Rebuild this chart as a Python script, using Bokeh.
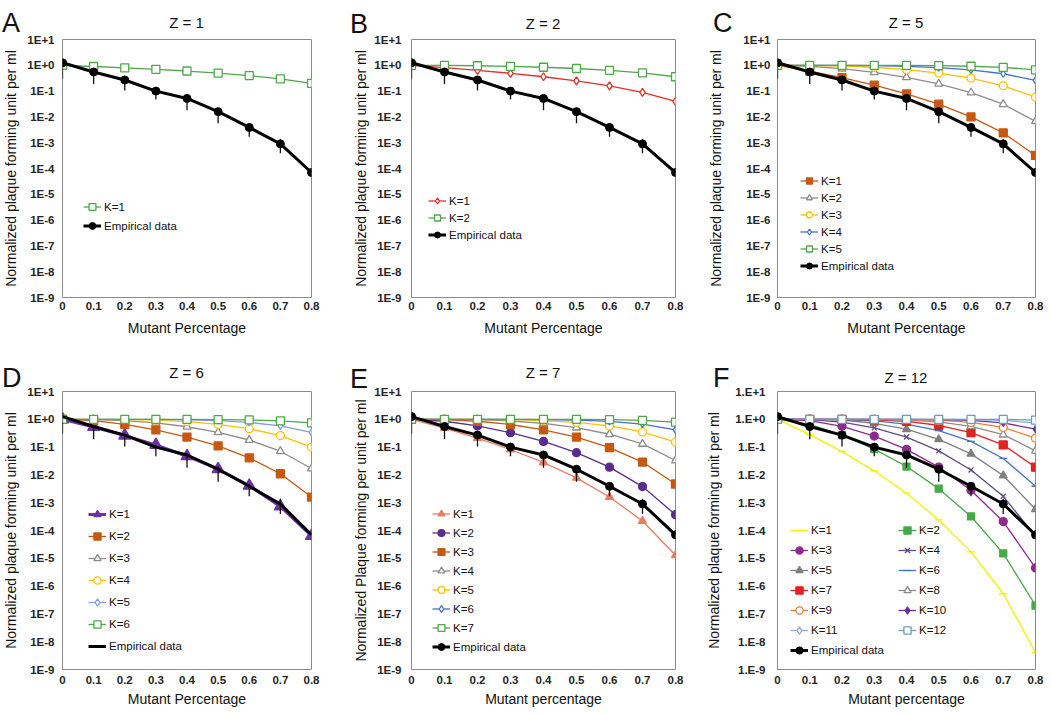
from bokeh.plotting import figure
from bokeh.models import (Range1d, FixedTicker, CustomJSTickFormatter, Legend, LegendItem,
                          GridBox, Div)
from bokeh.embed import file_html
from bokeh.resources import INLINE

FONT = "Liberation Sans"

# ---------------- data ----------------
mutant = [0.0, 0.1, 0.2, 0.3, 0.4, 0.5, 0.6, 0.7, 0.8]
x_tick_labels = ["0", "0.1", "0.2", "0.3", "0.4", "0.5", "0.6", "0.7", "0.8"]
y_ticks = [1e-9, 1e-8, 1e-7, 1e-6, 1e-5, 1e-4, 1e-3, 1e-2, 1e-1, 1e0, 1e1]
y_tick_labels = ["1E-9", "1E-8", "1E-7", "1E-6", "1E-5", "1E-4", "1E-3", "1E-2", "1E-1", "1E+0", "1E+1"]
y_tick_labels_f = ["1.E-9", "1.E-8", "1.E-7", "1.E-6", "1.E-5", "1.E-4", "1.E-3", "1.E-2", "1.E-1", "1.E+0", "1.E+1"]

empirical = [1.25, 0.55, 0.27, 0.10, 0.052, 0.016, 0.0039, 0.0009, 0.00007]
empirical_err_low = [0.3, 0.19, 0.105, 0.047, 0.018, 0.0057, 0.0017, 0.00039, 0.00007]
empirical_err_high = [1.6, 0.6, 0.3, 0.12, 0.06, 0.02, 0.0047, 0.0014, 0.00007]

z1_k1 = [1.0, 0.9, 0.8, 0.7, 0.6, 0.5, 0.4, 0.3, 0.2]

z2_k1 = [1.0, 0.81, 0.64, 0.49, 0.36, 0.25, 0.16, 0.09, 0.04]
z2_k2 = [1.0, 0.99, 0.96, 0.91, 0.84, 0.75, 0.64, 0.51, 0.36]

z5_k1 = [1.0, 0.59, 0.33, 0.17, 0.078, 0.031, 0.010, 0.0024, 0.00032]
z5_k2 = [1.0, 0.92, 0.74, 0.53, 0.34, 0.19, 0.087, 0.031, 0.0067]
z5_k3 = [1.0, 0.99, 0.94, 0.84, 0.68, 0.50, 0.32, 0.16, 0.058]
z5_k4 = [1.0, 1.0, 0.99, 0.97, 0.91, 0.81, 0.66, 0.47, 0.26]
z5_k5 = [1.0, 1.0, 1.0, 1.0, 0.99, 0.97, 0.92, 0.83, 0.67]

z6_k1 = [1.0, 0.53, 0.26, 0.12, 0.047, 0.016, 0.0041, 0.00073, 0.000064]
z6_k2 = [1.0, 0.89, 0.66, 0.42, 0.23, 0.11, 0.041, 0.011, 0.0016]
z6_k3 = [1.0, 0.98, 0.90, 0.74, 0.54, 0.34, 0.18, 0.071, 0.017]
z6_k4 = [1.0, 1.0, 0.98, 0.93, 0.82, 0.66, 0.46, 0.26, 0.099]
z6_k5 = [1.0, 1.0, 1.0, 0.99, 0.96, 0.89, 0.77, 0.58, 0.34]
z6_k6 = [1.0, 1.0, 1.0, 1.0, 1.0, 0.98, 0.95, 0.88, 0.74]

z7_k1 = [1.0, 0.48, 0.21, 0.082, 0.028, 0.0078, 0.0016, 0.00022, 0.0000128]
z7_k2 = [1.0, 0.85, 0.58, 0.33, 0.16, 0.063, 0.019, 0.0038, 0.00037]
z7_k3 = [1.0, 0.97, 0.85, 0.65, 0.42, 0.23, 0.096, 0.029, 0.0047]
z7_k4 = [1.0, 1.0, 0.97, 0.87, 0.71, 0.50, 0.29, 0.13, 0.033]
z7_k5 = [1.0, 1.0, 1.0, 0.97, 0.90, 0.77, 0.58, 0.35, 0.15]
z7_k6 = [1.0, 1.0, 1.0, 1.0, 0.98, 0.94, 0.84, 0.67, 0.42]
z7_k7 = [1.0, 1.0, 1.0, 1.0, 1.0, 0.99, 0.97, 0.92, 0.79]

z12_k1 = [1.0, 0.28, 0.069, 0.014, 0.0022, 0.00024, 0.000017, 5.3e-7, 4.1e-9]
z12_k2 = [1.0, 0.66, 0.27, 0.085, 0.020, 0.0032, 0.00032, 0.000015, 2.0e-7]
z12_k3 = [1.0, 0.89, 0.56, 0.25, 0.083, 0.019, 0.0028, 0.00021, 4.5e-6]
z12_k4 = [1.0, 0.97, 0.79, 0.49, 0.23, 0.073, 0.015, 0.0017, 0.000062]
z12_k5 = [1.0, 1.0, 0.93, 0.72, 0.44, 0.19, 0.057, 0.0095, 0.00058]
z12_k6 = [1.0, 1.0, 0.98, 0.88, 0.67, 0.39, 0.16, 0.039, 0.0039]
z12_k7 = [1.0, 1.0, 1.0, 0.96, 0.84, 0.61, 0.33, 0.12, 0.019]
z12_k8 = [1.0, 1.0, 1.0, 0.99, 0.94, 0.81, 0.56, 0.28, 0.073]
z12_k9 = [1.0, 1.0, 1.0, 1.0, 0.98, 0.93, 0.77, 0.51, 0.21]
z12_k10 = [1.0, 1.0, 1.0, 1.0, 1.0, 0.98, 0.92, 0.75, 0.44]
z12_k11 = [1.0, 1.0, 1.0, 1.0, 1.0, 1.0, 0.98, 0.92, 0.73]
z12_k12 = [1.0, 1.0, 1.0, 1.0, 1.0, 1.0, 1.0, 0.99, 0.93]

# ---------------- styles ----------------
GREEN = "#4EA84A"
RED = "#E0302A"
ORANGE = "#C65911"
GRAY = "#8C8C8C"
YELLOW = "#FFC000"
BLUE = "#4472C4"
LBLUE = "#7F9FDF"
PURPLE = "#7030A0"


def S(label, y, color, marker, fill, size=8, lw=1.3):
    return dict(label=label, y=y, color=color, marker=marker, fill=fill, size=size, lw=lw)


panels = [
    dict(letter="A", title="Z = 1", w=350, h=355, ml=62, mr=39, mt=39, mb=58,
         letter_pos=(2, 10), title_top=15, cell=(0, 0),
         ylab="Normalized plaque forming unit per ml", xlab="Mutant Percentage",
         ylabels=y_tick_labels, y_std=8, ylab_std=5, x_std=4, xlab_std=7,
         series=[S("K=1", z1_k1, GREEN, "square", "white")],
         emp_marker=True, legends=[dict(loc=(21, 63), lh=17, n=None)]),
    dict(letter="B", title="Z = 2", w=350, h=355, ml=61, mr=25, mt=39, mb=58,
         letter_pos=(0, 11), title_top=16, cell=(0, 1),
         ylab="Normalized plaque forming unit per ml", xlab="Mutant Percentage",
         ylabels=y_tick_labels, y_std=10, ylab_std=2, x_std=4, xlab_std=7,
         series=[S("K=1", z2_k1, RED, "diamond", "white", 8),
                 S("K=2", z2_k2, GREEN, "square", "white")],
         emp_marker=True, legends=[dict(loc=(17, 55), lh=15, n=None)]),
    dict(letter="C", title="Z = 5", w=348, h=355, ml=77, mr=13, mt=39, mb=58,
         letter_pos=(13, 10), title_top=15, cell=(0, 2),
         ylab="Normalized plaque forming unit per ml", xlab="Mutant Percentage",
         ylabels=y_tick_labels, y_std=7, ylab_std=16, x_std=4, xlab_std=7,
         series=[S("K=1", z5_k1, ORANGE, "square", ORANGE),
                 S("K=2", z5_k2, GRAY, "triangle", "white"),
                 S("K=3", z5_k3, YELLOW, "circle", "white"),
                 S("K=4", z5_k4, BLUE, "diamond", "white", 7),
                 S("K=5", z5_k5, GREEN, "square", "white")],
         emp_marker=True, legends=[dict(loc=(23, 24), lh=15, n=None)]),
    dict(letter="D", title="Z = 6", w=350, h=360, ml=62, mr=39, mt=36, mb=46,
         letter_pos=(2, 10), title_top=10, cell=(1, 0),
         ylab="Normalized plaque forming unit per ml", xlab="Mutant Percentage",
         ylabels=y_tick_labels, y_std=8, ylab_std=5, x_std=6, xlab_std=4,
         series=[S("K=1", z6_k1, PURPLE, "triangle", PURPLE, 12, 3),
                 S("K=2", z6_k2, ORANGE, "square", ORANGE),
                 S("K=3", z6_k3, GRAY, "triangle", "white"),
                 S("K=4", z6_k4, YELLOW, "circle", "white"),
                 S("K=5", z6_k5, LBLUE, "diamond", "white", 7),
                 S("K=6", z6_k6, GREEN, "square", "white")],
         emp_marker=False, legends=[dict(loc=(26, 13), lh=20, n=None)]),
    dict(letter="E", title="Z = 7", w=350, h=360, ml=61, mr=25, mt=36, mb=46,
         letter_pos=(0, 11), title_top=10, cell=(1, 1),
         ylab="Normalized Plaque forming per unit per ml", xlab="Mutant percentage",
         ylabels=y_tick_labels, y_std=10, ylab_std=2, x_std=6, xlab_std=4,
         series=[S("K=1", z7_k1, "#E97B63", "triangle", "#E97B63"),
                 S("K=2", z7_k2, "#5B2C8F", "circle", "#5B2C8F"),
                 S("K=3", z7_k3, ORANGE, "square", ORANGE),
                 S("K=4", z7_k4, GRAY, "triangle", "white"),
                 S("K=5", z7_k5, YELLOW, "circle", "white"),
                 S("K=6", z7_k6, BLUE, "diamond", "white", 7),
                 S("K=7", z7_k7, GREEN, "square", "white")],
         emp_marker=True, legends=[dict(loc=(21, 14), lh=17, n=None)]),
    dict(letter="F", title="Z = 12", w=348, h=360, ml=77, mr=13, mt=36, mb=46,
         letter_pos=(13, 10), title_top=15, cell=(1, 2),
         ylab="Normalized plaque forming unit per ml", xlab="Mutant percentage",
         ylabels=y_tick_labels_f, y_std=12, ylab_std=10, x_std=6, xlab_std=4,
         series=[S("K=1", z12_k1, "#F2F200", "dash", "#F2F200", 8),
                 S("K=2", z12_k2, "#48A948", "square", "#48A948", 7),
                 S("K=3", z12_k3, "#8E2B8E", "circle", "#8E2B8E"),
                 S("K=4", z12_k4, "#5F4B8B", "x", "#5F4B8B", 7),
                 S("K=5", z12_k5, "#7F7F7F", "triangle", "#7F7F7F"),
                 S("K=6", z12_k6, BLUE, "dash", BLUE, 8),
                 S("K=7", z12_k7, "#E02222", "square", "#E02222"),
                 S("K=8", z12_k8, GRAY, "triangle", "white"),
                 S("K=9", z12_k9, "#ED7D31", "circle", "white"),
                 S("K=10", z12_k10, PURPLE, "diamond", PURPLE, 7),
                 S("K=11", z12_k11, "#8EA9DB", "diamond", "white", 7),
                 S("K=12", z12_k12, "#6A9FB5", "square", "white")],
         emp_marker=True,
         legends=[dict(loc=(13, 10), lh=18, n="odd"), dict(loc=(121, 30), lh=18, n="even")]),
]


def make_panel(cfg):
    p = figure(width=cfg["w"], height=cfg["h"], y_axis_type="log",
               x_range=Range1d(0, 0.8), y_range=Range1d(1e-9, 10),
               output_backend="svg", toolbar_location=None,
               min_border_left=cfg["ml"], min_border_right=cfg["mr"],
               min_border_top=cfg["mt"], min_border_bottom=cfg["mb"])
    p.grid.visible = False
    p.outline_line_color = "#8C8C8C"
    p.outline_line_width = 1
    p.background_fill_color = "white"
    p.border_fill_color = "white"

    for ax in (p.xaxis[0], p.yaxis[0]):
        ax.axis_line_color = None
        ax.major_tick_line_color = None
        ax.minor_tick_line_color = None
        ax.major_tick_out = 0
        ax.major_tick_in = 0
        ax.major_label_text_font = FONT
        ax.major_label_text_font_size = "11.5px"
        ax.major_label_text_font_style = "bold"
        ax.major_label_text_color = "#262626"
        ax.axis_label_text_font = FONT
        ax.axis_label_text_font_size = "14px"
        ax.axis_label_text_font_style = "normal"
        ax.axis_label_text_color = "#111111"

    p.xaxis.ticker = FixedTicker(ticks=mutant)
    p.xaxis.formatter = CustomJSTickFormatter(
        args=dict(labels=x_tick_labels),
        code="const i = Math.round(tick * 10); return labels[i] !== undefined ? labels[i] : '';")
    p.xaxis.major_label_standoff = cfg["x_std"]
    p.xaxis.axis_label = cfg["xlab"]
    p.xaxis.axis_label_standoff = cfg["xlab_std"]

    p.yaxis.ticker = FixedTicker(ticks=y_ticks, minor_ticks=[])
    p.yaxis.formatter = CustomJSTickFormatter(
        args=dict(labels=cfg["ylabels"]),
        code="const i = Math.round(Math.log10(tick)) + 9; return labels[i] !== undefined ? labels[i] : '';")
    p.yaxis.major_label_standoff = cfg["y_std"]
    p.yaxis.axis_label = cfg["ylab"]
    p.yaxis.axis_label_standoff = cfg["ylab_std"]

    items = []
    for s in cfg["series"]:
        lr = p.line(mutant, s["y"], line_color=s["color"], line_width=s["lw"])
        sr = p.scatter(mutant, s["y"], marker=s["marker"], size=s["size"],
                       line_color=s["color"], fill_color=s["fill"], line_width=1.3)
        items.append(LegendItem(label=s["label"], renderers=[lr, sr]))

    p.segment(x0=mutant, y0=empirical_err_low, x1=mutant, y1=empirical_err_high,
              line_color="#111111", line_width=1.3)
    er = p.line(mutant, empirical, line_color="black", line_width=3)
    erends = [er]
    if cfg["emp_marker"]:
        es = p.scatter(mutant, empirical, marker="circle", size=8,
                       line_color="black", fill_color="black")
        erends.append(es)
    emp_item = LegendItem(label="Empirical data", renderers=erends)

    for lg in cfg["legends"]:
        if lg["n"] is None:
            its = items + [emp_item]
        elif lg["n"] == "odd":
            its = items[0::2] + [emp_item]
        else:
            its = items[1::2]
        leg = Legend(items=its, location=lg["loc"], border_line_color=None,
                     background_fill_alpha=0, padding=0, margin=0, spacing=2,
                     label_height=lg["lh"], glyph_height=lg["lh"], glyph_width=18,
                     label_standoff=3, label_text_font=FONT,
                     label_text_font_size="11.5px", label_text_color="#111111")
        p.add_layout(leg)
    return p


children = []
for cfg in panels:
    fig = make_panel(cfg)
    r, c = cfg["cell"]
    children.append((fig, r, c))
for cfg in panels:
    r, c = cfg["cell"]
    lx, ly = cfg["letter_pos"]
    letter = Div(text=("<div style=\"font-family:'Liberation Sans';font-size:27px;"
                       "line-height:27px;color:#111111\">" + cfg["letter"] + "</div>"),
                 width=24, height=28, margin=(ly, 0, 0, lx), align="start")
    children.append((letter, r, c))
    frame_w = cfg["w"] - cfg["ml"] - cfg["mr"]
    title = Div(text=("<div style=\"font-family:'Liberation Sans';font-size:15px;"
                      "line-height:15px;color:#111111;text-align:center;width:" +
                      str(frame_w) + "px\">" + cfg["title"] + "</div>"),
                width=frame_w, height=16, margin=(cfg["title_top"], 0, 0, cfg["ml"]),
                align="start")
    children.append((title, r, c))

layout = GridBox(children=children, spacing=0)

with open("out.html", "w") as f:
    f.write(file_html(layout, INLINE, title="Plaque forming unit vs mutant percentage"))
